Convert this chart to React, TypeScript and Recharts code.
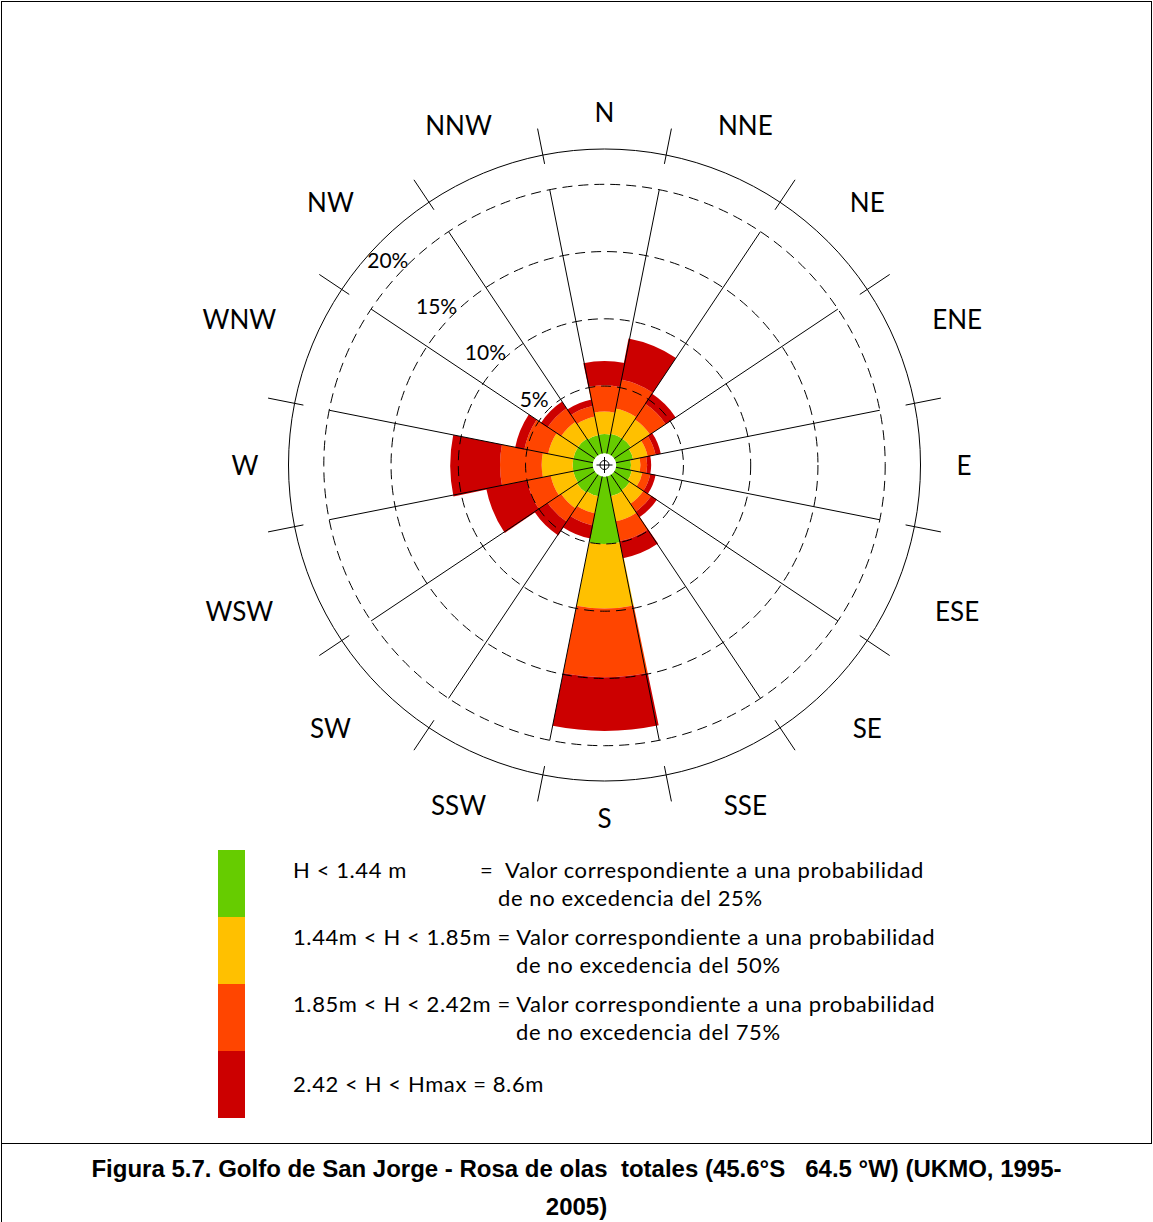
import React from 'react';
import { RadialBarChart, RadialBar, PolarGrid, PolarAngleAxis, PolarRadiusAxis } from 'recharts';

// wave rose: share of records (%) per direction and height class
const directions = ['N', 'NNE', 'NE', 'ENE', 'E', 'ESE', 'SE', 'SSE', 'S', 'SSW', 'SW', 'WSW', 'W', 'WNW', 'NW', 'NNW'];
const hLow = [1.43, 1.5, 1.5, 1.3, 1.1, 1.2, 1.4, 1.5, 5.0, 1.5, 1.6, 1.5, 1.5, 1.5, 1.5, 1.4];
const hMid = [1.67, 1.9, 1.7, 1.1, 0.7, 0.8, 1.2, 1.9, 4.8, 1.3, 1.4, 1.7, 2.3, 1.9, 1.5, 1.4];
const hHigh = [1.95, 2.2, 1.4, 0.6, 0.5, 0.6, 0.7, 1.5, 5.1, 0.9, 1.2, 1.8, 3.1, 1.8, 1.2, 0.8];
const hMax = [1.81, 3.1, 0.9, 0.4, 0.3, 0.4, 0.5, 1.3, 4.0, 1.0, 1.2, 3.1, 3.7, 0.7, 0.6, 0.5];
const pctTicks = [5, 10, 15, 20];

const legendRows = [
  { color: '#66CC00', left: 'H < 1.44 m', right: '=  Valor correspondiente a una probabilidad', rightX: 480, sub: 'de no excedencia del 25%', subX: 498 },
  { color: '#FFC000', left: '1.44m < H < 1.85m = Valor correspondiente a una probabilidad', right: '', rightX: 0, sub: 'de no excedencia del 50%', subX: 516 },
  { color: '#FF4500', left: '1.85m < H < 2.42m = Valor correspondiente a una probabilidad', right: '', rightX: 0, sub: 'de no excedencia del 75%', subX: 516 },
  { color: '#CC0000', left: '2.42 < H < Hmax = 8.6m', right: '', rightX: 0, sub: '', subX: 0 },
];

const data = directions.map((dir, i) => ({
  dir,
  low: hLow[i],
  mid: hMid[i],
  high: hHigh[i],
  max: hMax[i],
}));

const CX = 604.5;
const CY = 465;
const INNER = 11.7;
const OUTER = 280.7; // 20 %
const W = 1153;
const H = 840;
const HALF = 11.25;
// recharts puts the first band after the start angle, so start half a sector right of north
const START = 90 - HALF;
const sectorEdges = directions.map((_, i) => 90 + HALF - i * 22.5);
const rOf = (p: number) => INNER + (p / 20) * (OUTER - INNER);
const FONT = 'Lato, "Open Sans", sans-serif';

const DirTick = (props: any) => {
  const { payload } = props;
  const label = String(payload.value);
  const a = ((payload.coordinate + HALF) * Math.PI) / 180;
  const c = Math.cos(a);
  const s = Math.sin(a);
  const w = label.length * 19;
  const r = 350 + 0.5 * w * Math.abs(c) + 3 * Math.abs(s) + 6 * Math.abs(2 * s * c);
  let x = CX + r * c;
  if (c < -0.1) x -= 16 * Math.abs(c) * Math.sqrt(Math.abs(2 * s * c));
  return (
    <text x={x} y={CY - r * s} textAnchor="middle" dominantBaseline="central"
      fontFamily={FONT} fontSize={26} fill="#000">
      {label}
    </text>
  );
};

const PCT_ANGLE = 136.5;
const PctTick = (props: any) => {
  const { payload } = props;
  if (!payload || !payload.value) return null;
  const a = (PCT_ANGLE * Math.PI) / 180;
  const rr = payload.coordinate + 18;
  return (
    <text x={CX + rr * Math.cos(a)} y={CY - rr * Math.sin(a)} textAnchor="middle" dominantBaseline="central"
      fontFamily={FONT} fontSize={21} fill="#000">
      {`${payload.value}%`}
    </text>
  );
};

const chartProps = {
  width: W,
  height: H,
  data,
  cx: CX,
  cy: CY,
  innerRadius: INNER,
  outerRadius: OUTER,
  startAngle: START,
  endAngle: START - 360,
  layout: 'centric' as const,
  barCategoryGap: 0,
  barGap: 0,
  margin: { top: 0, right: 0, bottom: 0, left: 0 },
};

const layer: React.CSSProperties = { position: 'absolute', left: 0, top: 0, pointerEvents: 'none' };

export default function App() {
  return (
    <div style={{ position: 'absolute', left: 0, top: 0, width: W, height: 1222, background: '#fff', overflow: 'hidden', fontFamily: FONT }}>
      {/* frame */}
      <div style={{ position: 'absolute', left: 1, top: 1, width: 1149, height: 1141, border: '1px solid #000' }} />
      <div style={{ position: 'absolute', left: 1, top: 1143, width: 1, height: 80, background: '#000' }} />

      {/* stacked bars and % labels */}
      <div style={layer}>
        <RadialBarChart {...chartProps}>
          <PolarAngleAxis dataKey="dir" type="category" tick={false} tickLine={false} axisLine={false} />
          <PolarRadiusAxis type="number" domain={[0, 20]} tickCount={5} angle={PCT_ANGLE}
            tick={(p: any) => <PctTick {...p} />} tickLine={false} axisLine={false} />
          <RadialBar dataKey="low" stackId="h" fill="#66CC00" isAnimationActive={false} />
          <RadialBar dataKey="mid" stackId="h" fill="#FFC000" isAnimationActive={false} />
          <RadialBar dataKey="high" stackId="h" fill="#FF4500" isAnimationActive={false} />
          <RadialBar dataKey="max" stackId="h" fill="#CC0000" isAnimationActive={false} />
        </RadialBarChart>
      </div>

      {/* spokes, dashed rings and direction labels drawn over the bars */}
      <div style={layer}>
        <RadialBarChart {...chartProps}>
          <PolarAngleAxis dataKey="dir" type="category" tick={(p: any) => <DirTick {...p} />} tickLine={false} axisLine={false} />
          <PolarRadiusAxis type="number" domain={[0, 20]} tick={false} tickLine={false} axisLine={false} />
          <PolarGrid gridType="circle" polarAngles={sectorEdges} polarRadius={[0]} stroke="#000" strokeWidth={1} />
          <PolarGrid gridType="circle" radialLines={false} polarAngles={sectorEdges} polarRadius={pctTicks.map(rOf)}
            stroke="#000" strokeWidth={1} strokeDasharray="10 6" />
        </RadialBarChart>
      </div>

      {/* outer ring with sector ticks */}
      <div style={layer}>
        <RadialBarChart {...chartProps} innerRadius={307} outerRadius={343}>
          <PolarAngleAxis dataKey="dir" type="category" tick={false} tickLine={false} axisLine={false} />
          <PolarRadiusAxis type="number" domain={[0, 20]} tick={false} tickLine={false} axisLine={false} />
          <PolarGrid gridType="circle" polarAngles={sectorEdges} polarRadius={[316]} stroke="#000" strokeWidth={1} />
        </RadialBarChart>
      </div>

      {/* centre cross */}
      <div style={layer}>
        <RadialBarChart {...chartProps} innerRadius={0} outerRadius={8}>
          <PolarAngleAxis dataKey="dir" type="category" tick={false} tickLine={false} axisLine={false} />
          <PolarRadiusAxis type="number" domain={[0, 20]} tick={false} tickLine={false} axisLine={false} />
          <PolarGrid gridType="circle" polarAngles={[0, 90, 180, 270]} polarRadius={[4.5]} stroke="#000" strokeWidth={1} />
        </RadialBarChart>
      </div>

      {/* legend */}
      {legendRows.map((row, i) => (
        <div key={i} style={{ position: 'absolute', left: 218, top: 850 + i * 67, width: 27, height: 67, background: row.color }} />
      ))}
      {legendRows.map((row, i) => {
        const cy = i === 3 ? 1084 : 870 + i * 67;
        const txt: React.CSSProperties = { position: 'absolute', fontSize: 22, letterSpacing: 0.6, lineHeight: '28px', whiteSpace: 'pre' };
        return (
          <React.Fragment key={`t${i}`}>
            <div style={{ ...txt, left: 293, top: cy - 14 }}>{row.left}</div>
            {row.right && <div style={{ ...txt, left: row.rightX, top: cy - 14 }}>{row.right}</div>}
            {row.sub && <div style={{ ...txt, left: row.subX, top: cy + 14 }}>{row.sub}</div>}
          </React.Fragment>
        );
      })}

      {/* caption */}
      <div style={{ position: 'absolute', left: 0, top: 1150, width: W, textAlign: 'center', fontFamily: '"Liberation Sans", Arial, sans-serif',
        fontWeight: 'bold', fontSize: 24, lineHeight: '38px', whiteSpace: 'pre' }}>
        {'Figura 5.7. Golfo de San Jorge - Rosa de olas  totales (45.6°S   64.5 °W) (UKMO, 1995-\n2005)'}
      </div>
    </div>
  );
}
